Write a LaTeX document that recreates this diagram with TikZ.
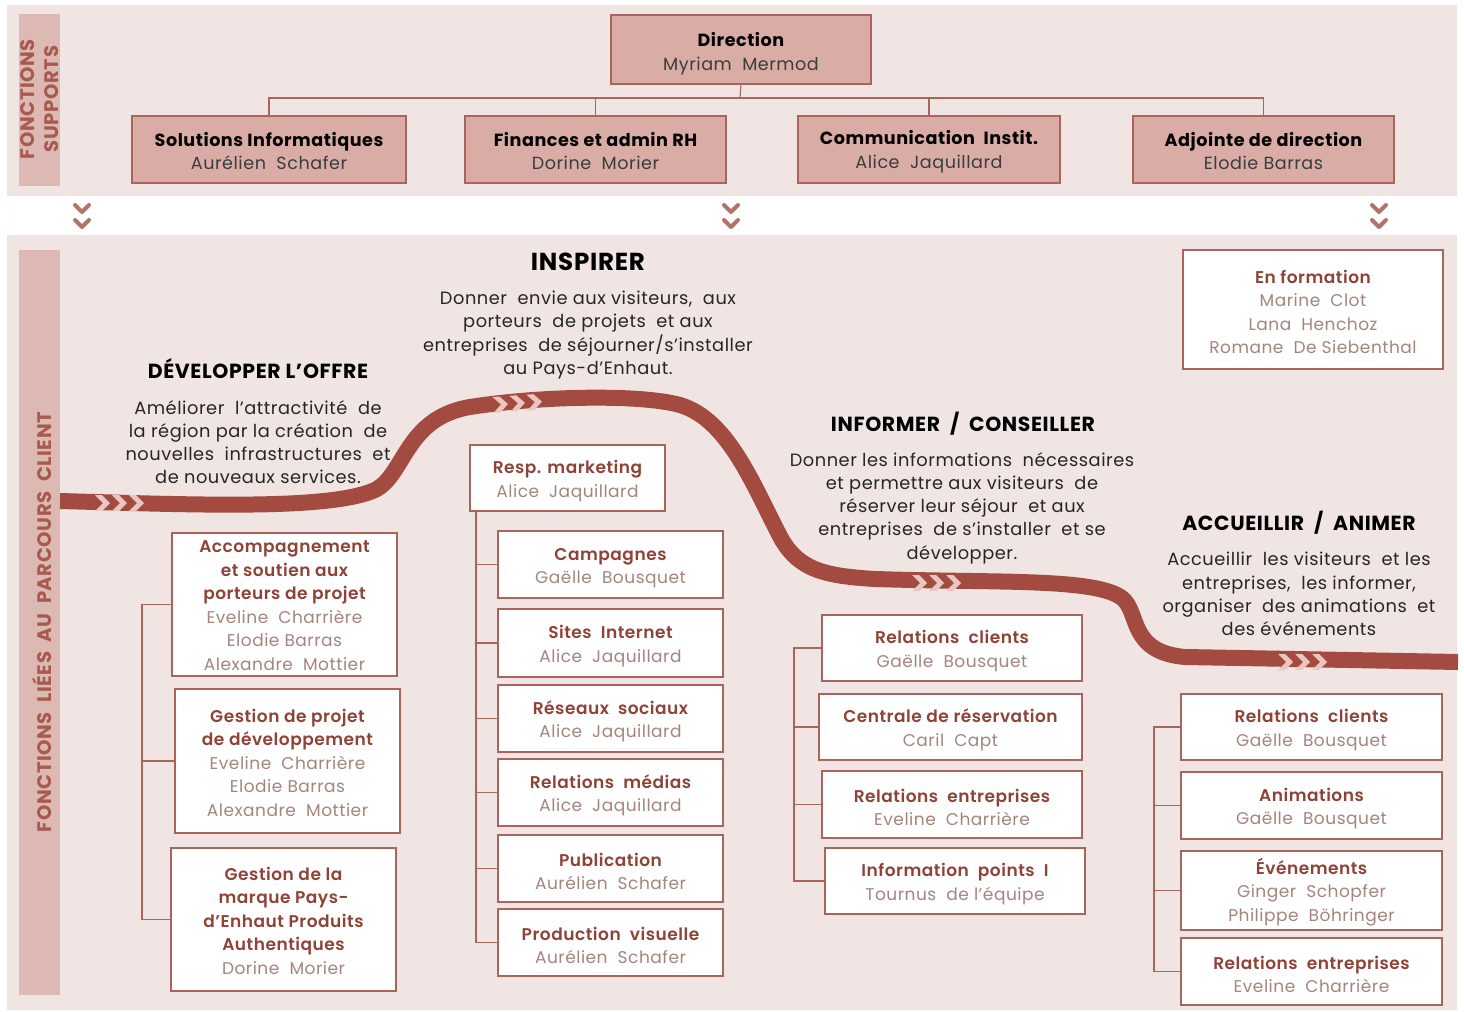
\documentclass[tikz,border=0pt]{standalone}
\usepackage{fontspec}
\setmainfont{Poppins}[LetterSpace=3]
\newfontface\semib{Poppins SemiBold}[LetterSpace=3]
\definecolor{bandbg}{HTML}{F0E5E2}
\definecolor{barbg}{HTML}{DDB9B3}
\definecolor{topfill}{HTML}{D9ADA6}
\definecolor{brd}{HTML}{A9655C}
\definecolor{road}{HTML}{A34B40}
\definecolor{roadchev}{HTML}{E9C6BF}
\definecolor{ttlred}{HTML}{8F4236}
\definecolor{nmcol}{HTML}{A3857F}
\definecolor{bartxt}{HTML}{A85A50}
\definecolor{txtdark}{HTML}{262626}
\newcommand{\ttl}[1]{{\semib\color{ttlred}#1}}
\newcommand{\nm}[1]{{\color{nmcol}#1}}
\newcommand{\tttl}[1]{{\bfseries\color{black}#1}}
\newcommand{\tnm}[1]{{\color{txtdark!90}#1}}
\newcommand{\sh}[1]{\rule{0pt}{#1pt}}
\newcommand{\orgbox}[7]{%
  \node[#1, minimum width={(#5-#3)*0.5pt}, minimum height={(#6-#4)*0.5pt}] (#2) at ({(#3+#5)/2},{(#4+#6)/2}) {#7};}
\newcommand{\roadchevs}[3]{%
  \begin{scope}[shift={(#1,#2)}, rotate=#3]
    \foreach \k in {0,17,34}{
      \fill[roadchev] (\k,-8) -- (\k+7,-8) -- (\k+15,0) -- (\k+7,8) -- (\k,8) -- (\k+8,0) -- cycle;}
  \end{scope}}
\newcommand{\downchevs}[2]{%
  \draw[brd!90, line width=2pt, line cap=round, line join=round]
    (#1-7,#2) -- (#1,#2+7) -- (#1+7,#2)
    (#1-7,#2+15) -- (#1,#2+22) -- (#1+7,#2+15);}
\tikzset{
  topbox/.style={draw=brd, fill=topfill, line width=0.6pt, inner sep=0pt, outer sep=0pt, align=center,
    font={\fontsize{8.8}{11.8}\selectfont}},
  wbox/.style={draw=brd, fill=white, line width=0.6pt, inner sep=0pt, outer sep=0pt, align=center,
    font={\fontsize{8.5}{11.75}\selectfont}},
  conn/.style={draw=brd, line width=0.55pt},
  hd/.style={font={\fontsize{10.2}{12}\selectfont\bfseries}, text=black, inner sep=0pt},
  desc/.style={font={\fontsize{8.9}{11.6}\selectfont}, text=txtdark, align=center, inner sep=0pt},
  barlbl/.style={font={\fontsize{9.8}{12}\selectfont\bfseries}, text=bartxt, align=center, inner sep=0pt, rotate=90}
}
\begin{document}
\begin{tikzpicture}[x=0.5pt,y=-0.5pt]
\useasboundingbox (0,0) rectangle (1464,1012);
\fill[white] (0,0) rectangle (1464,1012);
% bands
\fill[bandbg] (7,5) rectangle (1457,196);
\fill[bandbg] (7,235) rectangle (1457,1010);
\fill[barbg] (19,14) rectangle (60,186);
\fill[barbg] (19,250) rectangle (60,995);
\node[barlbl] (lblsup) at (40,99) {FONCTIONS\\SUPPORTS};
\node[barlbl] (lblcli) at (42,622) {FONCTIONS\ \ LIÉES\ \ AU\ \ PARCOURS\ \ CLIENT};

% top boxes
\orgbox{topbox}{dir}{611}{15}{871}{84}{\sh{11}\tttl{Direction}\\\tnm{Myriam\ \ Mermod}}
\orgbox{topbox}{sol}{132}{116}{406}{183}{\sh{8.5}\tttl{Solutions Informatiques}\\\tnm{Aurélien\ \ Schafer}}
\orgbox{topbox}{fin}{465}{116}{726}{183}{\sh{8.5}\tttl{Finances et admin RH}\\\tnm{Dorine\ \ Morier}}
\orgbox{topbox}{com}{798}{116}{1060}{183}{\sh{9}\tttl{Communication\ \ Instit.}\\\tnm{Alice\ \ Jaquillard}}
\orgbox{topbox}{adj}{1133}{116}{1394}{183}{\sh{8.5}\tttl{Adjointe de direction}\\\tnm{Elodie Barras}}
\coordinate (hub) at (740,98);
\draw[conn] (dir.south) -- (hub);
\draw[conn] (sol.north) -- (sol.north |- hub) -- (adj.north |- hub) -- (adj.north);
\draw[conn] (fin.north) -- (fin.north |- hub);
\draw[conn] (com.north) -- (com.north |- hub);

% down chevrons
\downchevs{82}{205}
\downchevs{731}{205}
\downchevs{1379}{205}

% road
\draw[road, line width=8pt]
  (60,501) .. controls (200,505) and (330,510) .. (375,490)
  .. controls (405,475) and (405,418) .. (470,407)
  .. controls (540,396) and (640,394) .. (680,405)
  .. controls (730,420) and (755,490) .. (782,540)
  .. controls (800,570) and (825,576) .. (875,579)
  .. controls (1000,583) and (1095,578) .. (1122,598)
  .. controls (1140,612) and (1128,652) .. (1185,657)
  -- (1458,662);
\roadchevs{95}{503}{0}
\roadchevs{493}{405}{4}
\roadchevs{912}{583}{0}
\roadchevs{1278}{662}{0}

% headings and descriptions
\node[hd, font={\fontsize{12.3}{14}\selectfont\bfseries}] (hinsp) at (588,262) {INSPIRER};
\node[desc] (dinsp) at (588,335) {Donner\ \ envie aux visiteurs,\ \ aux\\porteurs\ \ de projets\ \ et aux\\entreprises\ \ de séjourner/s’installer\\au Pays-d’Enhaut.};
\node[hd] (hdev) at (258,369) {DÉVELOPPER L’OFFRE};
\node[desc] (ddev) at (258,442) {Améliorer\ \ l’attractivité\ \ de\\la région par la création\ \ de\\nouvelles\ \ infrastructures\ \ et\\de nouveaux services.};
\node[hd] (hinf) at (963,424) {INFORMER\ \ /\ \ CONSEILLER};
\node[desc] (dinf) at (962,508) {Donner les informations\ \ nécessaires\\et permettre aux visiteurs\ \ de\\réserver leur séjour\ \ et aux\\entreprises\ \ de s’installer\ \ et se\\développer.};
\node[hd] (hacc) at (1299,523) {ACCUEILLIR\ \ /\ \ ANIMER};
\node[desc] (dacc) at (1299,594) {Accueillir\ \ les visiteurs\ \ et les\\entreprises,\ \ les informer,\\organiser\ \ des animations\ \ et\\des événements};

% En formation
\orgbox{wbox}{form}{1183}{250}{1443}{369}{\sh{9}\ttl{En formation}\\\nm{Marine\ \ Clot}\\\nm{Lana\ \ Henchoz}\\\nm{Romane\ \ De Siebenthal}}

% column 1
\orgbox{wbox}{acc}{172}{533}{397}{676}{\sh{7}\ttl{Accompagnement}\\\ttl{et soutien aux}\\\ttl{porteurs de projet}\\\nm{Eveline\ \ Charrière}\\\nm{Elodie Barras}\\\nm{Alexandre\ \ Mottier}}
\orgbox{wbox}{gdp}{175}{689}{400}{833}{\sh{8.5}\ttl{Gestion de projet}\\\ttl{de développement}\\\nm{Eveline\ \ Charrière}\\\nm{Elodie Barras}\\\nm{Alexandre\ \ Mottier}}
\orgbox{wbox}{gmq}{171}{848}{396}{991}{\sh{8}\ttl{Gestion de la}\\\ttl{marque Pays-}\\\ttl{d’Enhaut Produits}\\\ttl{Authentiques}\\\nm{Dorine\ \ Morier}}
\coordinate (xa) at (142,0);
\draw[conn] (acc.west) -- (acc.west -| xa) -- (gmq.west -| xa) -- (gmq.west);
\draw[conn] (gdp.west) -- (gdp.west -| xa);

% column 2
\orgbox{wbox}{rmk}{470}{445}{665}{511}{\sh{9.8}\ttl{Resp. marketing}\\\nm{Alice\ \ Jaquillard}}
\orgbox{wbox}{cam}{498}{531}{723}{598}{\sh{9.8}\ttl{Campagnes}\\\nm{Gaëlle\ \ Bousquet}}
\orgbox{wbox}{sit}{498}{609}{723}{677}{\sh{9.8}\ttl{Sites\ \ Internet}\\\nm{Alice\ \ Jaquillard}}
\orgbox{wbox}{res}{498}{685}{723}{752}{\sh{9.8}\ttl{Réseaux\ \ sociaux}\\\nm{Alice\ \ Jaquillard}}
\orgbox{wbox}{med}{498}{759}{723}{826}{\sh{9.8}\ttl{Relations\ \ médias}\\\nm{Alice\ \ Jaquillard}}
\orgbox{wbox}{pub}{498}{835}{723}{902}{\sh{9.8}\ttl{Publication}\\\nm{Aurélien\ \ Schafer}}
\orgbox{wbox}{prv}{498}{909}{723}{976}{\sh{9.8}\ttl{Production\ \ visuelle}\\\nm{Aurélien\ \ Schafer}}
\coordinate (xb) at (476,0);
\draw[conn] (rmk.south -| xb) -- (prv.west -| xb) -- (prv.west);
\foreach \b in {cam,sit,res,med,pub}{\draw[conn] (\b.west) -- (\b.west -| xb);}

% column 3
\orgbox{wbox}{rc1}{822}{615}{1082}{681}{\sh{9.8}\ttl{Relations\ \ clients}\\\nm{Gaëlle\ \ Bousquet}}
\orgbox{wbox}{cdr}{819}{694}{1082}{760}{\sh{9.8}\ttl{Centrale de réservation}\\\nm{Caril\ \ Capt}}
\orgbox{wbox}{re1}{822}{771}{1082}{838}{\sh{9.8}\ttl{Relations\ \ entreprises}\\\nm{Eveline\ \ Charrière}}
\orgbox{wbox}{inf}{825}{848}{1085}{914}{\sh{9.8}\ttl{Information\ \ points\ \ I}\\\nm{Tournus\ \ de l’équipe}}
\coordinate (xc) at (794,0);
\draw[conn] (rc1.west) -- (rc1.west -| xc) -- (inf.west -| xc) -- (inf.west);
\foreach \b in {cdr,re1}{\draw[conn] (\b.west) -- (\b.west -| xc);}

% column 4
\orgbox{wbox}{rc2}{1181}{694}{1442}{760}{\sh{9.8}\ttl{Relations\ \ clients}\\\nm{Gaëlle\ \ Bousquet}}
\orgbox{wbox}{ani}{1181}{772}{1442}{839}{\sh{9.8}\ttl{Animations}\\\nm{Gaëlle\ \ Bousquet}}
\orgbox{wbox}{evt}{1181}{851}{1442}{930}{\sh{9.5}\ttl{Événements}\\\nm{Ginger\ \ Schopfer}\\\nm{Philippe\ \ Böhringer}}
\orgbox{wbox}{re2}{1181}{938}{1442}{1005}{\sh{9.8}\ttl{Relations\ \ entreprises}\\\nm{Eveline\ \ Charrière}}
\coordinate (xd) at (1154,0);
\draw[conn] (rc2.west) -- (rc2.west -| xd) -- (re2.west -| xd) -- (re2.west);
\foreach \b in {ani,evt}{\draw[conn] (\b.west) -- (\b.west -| xd);}
\end{tikzpicture}
\end{document}
